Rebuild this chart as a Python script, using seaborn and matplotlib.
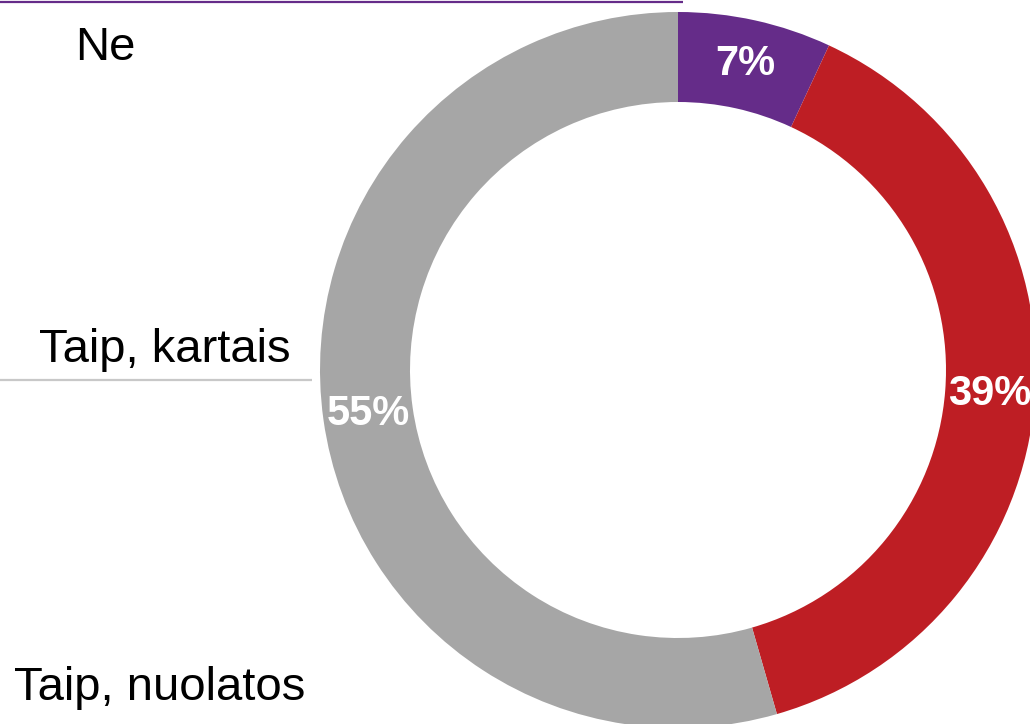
import matplotlib
matplotlib.use("Agg")
import matplotlib.pyplot as plt
import seaborn as sns

# ── Duomenys ──────────────────────────────────────────────────────────────────
categories = ["Ne", "Taip, kartais", "Taip, nuolatos"]
shares = [7, 39, 55]
pct_labels = ["7%", "39%", "55%"]
colors = ["#652c89", "#be1e24", "#a6a6a6"]

sns.set_theme(style="white")
plt.rcParams["font.family"] = ["Liberation Sans", "DejaVu Sans"]

W, H = 1030, 724
fig = plt.figure(figsize=(W / 100, H / 100), dpi=100)
ax = fig.add_axes([0, 0, 1, 1])

cx, cy, r_out, ring = 678, H - 370, 358, 90

wedges, _ = ax.pie(
    shares,
    colors=sns.color_palette(colors),
    startangle=90,
    counterclock=False,
    radius=r_out,
    center=(cx, cy),
    wedgeprops=dict(width=ring, edgecolor="none"),
)

# procentai ant žiedo
import numpy as np
lab_r = r_out - ring / 2
for w, txt in zip(wedges, pct_labels):
    ang = np.deg2rad((w.theta1 + w.theta2) / 2)
    ax.text(cx + lab_r * np.cos(ang), cy + lab_r * np.sin(ang), txt,
            ha="center", va="center", color="white",
            fontsize=30, fontweight="bold")

# kategorijų pavadinimai kairėje
ax.text(105, H - 60, categories[0], ha="center", va="baseline", fontsize=34, color="black")
ax.text(165, H - 362, categories[1], ha="center", va="baseline", fontsize=34, color="black")
ax.text(160, H - 700, categories[2], ha="center", va="baseline", fontsize=34, color="black")

# linijos
ax.plot([0, 683], [H - 2, H - 2], color="#652c89", lw=1.6, solid_capstyle="butt")
ax.plot([0, 312], [H - 380, H - 380], color="#c8c8c8", lw=1.6, solid_capstyle="butt")

ax.set_xlim(0, W)
ax.set_ylim(0, H)
ax.set_aspect("equal", adjustable="box")
ax.axis("off")

fig.savefig("out.png", dpi=100)
